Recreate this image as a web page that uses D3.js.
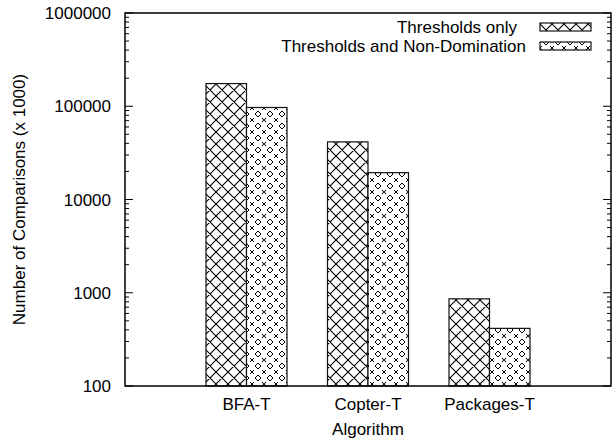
<!DOCTYPE html>
<html>
<head>
<meta charset="utf-8">
<script src="https://cdn.jsdelivr.net/npm/d3@7"></script>
<style>
  body { margin: 0; background: #fff; }
  text { font-family: "Liberation Sans", Arial, sans-serif; fill: #000; }
</style>
</head>
<body>
<div id="chart"></div>
<script>
// 数据
const categories = ['BFA-T', 'Copter-T', 'Packages-T']
const seriesNames = ['Thresholds only', 'Thresholds and Non-Domination']
const thresholdsOnly = [175000, 41500, 860]
const thresholdsNonDom = [97000, 19400, 415]
const yTicks = [100, 1000, 10000, 100000, 1000000]

const width = 614
const height = 442
const plot = { left: 125, right: 611, top: 13, bottom: 386 }
const fontSize = 17

const svg = d3.select('#chart').append('svg')
  .attr('width', width)
  .attr('height', height)

// 填充图案
const defs = svg.append('defs')
const crossPat = defs.append('pattern')
  .attr('id', 'pat-cross')
  .attr('patternUnits', 'userSpaceOnUse')
  .attr('width', 12).attr('height', 12)
crossPat.append('rect').attr('width', 12).attr('height', 12).attr('fill', '#fff')
crossPat.append('path')
  .attr('d', 'M0,0L12,12M0,12L12,0M-1,1L1,-1M11,13L13,11M-1,11L1,13M11,-1L13,1')
  .attr('stroke', '#000').attr('stroke-width', 1.1).attr('fill', 'none')

const dotPat = defs.append('pattern')
  .attr('id', 'pat-dots')
  .attr('patternUnits', 'userSpaceOnUse')
  .attr('width', 12).attr('height', 12)
dotPat.append('rect').attr('width', 12).attr('height', 12).attr('fill', '#fff')
// 小菱形
dotPat.append('path')
  .attr('d', 'M6,3L9,6L6,9L3,6Z')
  .attr('stroke', '#000').attr('stroke-width', 1).attr('fill', 'none')
// 角上的小叉
dotPat.append('path')
  .attr('d', 'M-2,-2L2,2M-2,2L2,-2M10,-2L14,2M10,2L14,-2M-2,10L2,14M-2,14L2,10M10,10L14,14M10,14L14,10')
  .attr('stroke', '#000').attr('stroke-width', 1).attr('fill', 'none')

const patterns = ['url(#pat-cross)', 'url(#pat-dots)']
const series = [thresholdsOnly, thresholdsNonDom]

// 比例尺
const x = d3.scaleLinear().domain([-1, 3]).range([plot.left, plot.right])
const y = d3.scaleLog().domain([100, 1000000]).range([plot.bottom, plot.top])
const barW = 1 / 3

// 柱子
series.forEach((vals, s) => {
  svg.append('g').selectAll('rect')
    .data(vals)
    .enter().append('rect')
    .attr('x', (d, i) => x(i - barW + s * barW))
    .attr('width', x(barW) - x(0))
    .attr('y', d => y(d))
    .attr('height', d => y(100) - y(d))
    .attr('fill', patterns[s])
    .attr('stroke', '#111')
    .attr('stroke-width', 1.2)
})

// 刻度（左右两侧向内）
const minorTicks = []
for (let e = 2; e < 6; e++) {
  for (let k = 2; k <= 9; k++) minorTicks.push(k * Math.pow(10, e))
}
const tickG = svg.append('g').attr('stroke', '#000').attr('stroke-width', 1)
yTicks.forEach(t => {
  tickG.append('line').attr('x1', plot.left).attr('x2', plot.left + 8).attr('y1', y(t)).attr('y2', y(t))
  tickG.append('line').attr('x1', plot.right).attr('x2', plot.right - 8).attr('y1', y(t)).attr('y2', y(t))
})
minorTicks.forEach(t => {
  tickG.append('line').attr('x1', plot.left).attr('x2', plot.left + 4).attr('y1', y(t)).attr('y2', y(t))
  tickG.append('line').attr('x1', plot.right).attr('x2', plot.right - 4).attr('y1', y(t)).attr('y2', y(t))
})

// y轴标签
svg.append('g').selectAll('text')
  .data(yTicks)
  .enter().append('text')
  .attr('x', plot.left - 14)
  .attr('y', d => y(d))
  .attr('dy', '0.36em')
  .attr('text-anchor', 'end')
  .attr('font-size', fontSize)
  .text(d => d)

// x轴标签
svg.append('g').selectAll('text')
  .data(categories)
  .enter().append('text')
  .attr('x', (d, i) => x(i))
  .attr('y', 410)
  .attr('text-anchor', 'middle')
  .attr('font-size', fontSize)
  .text(d => d)

// 边框
svg.append('rect')
  .attr('x', plot.left).attr('y', plot.top)
  .attr('width', plot.right - plot.left).attr('height', plot.bottom - plot.top)
  .attr('fill', 'none').attr('stroke', '#000').attr('stroke-width', 1.5)

// 坐标轴标题
svg.append('text')
  .attr('x', x(1)).attr('y', 435)
  .attr('text-anchor', 'middle')
  .attr('font-size', fontSize)
  .text('Algorithm')

svg.append('text')
  .attr('transform', 'translate(25,' + ((plot.top + plot.bottom) / 2) + ') rotate(-90)')
  .attr('text-anchor', 'middle')
  .attr('font-size', fontSize)
  .text('Number of Comparisons (x 1000)')

// 图例
const legend = svg.append('g')
const legendTextEnd = [517, 526]
seriesNames.forEach((name, s) => {
  const cy = 27 + s * 19
  legend.append('text')
    .attr('x', legendTextEnd[s]).attr('y', cy)
    .attr('dy', '0.36em')
    .attr('text-anchor', 'end')
    .attr('font-size', fontSize)
    .text(name)
  legend.append('rect')
    .attr('x', 540).attr('y', cy - 4)
    .attr('width', 51).attr('height', 8)
    .attr('fill', patterns[s])
    .attr('stroke', '#111').attr('stroke-width', 1.2)
})
</script>
</body>
</html>
